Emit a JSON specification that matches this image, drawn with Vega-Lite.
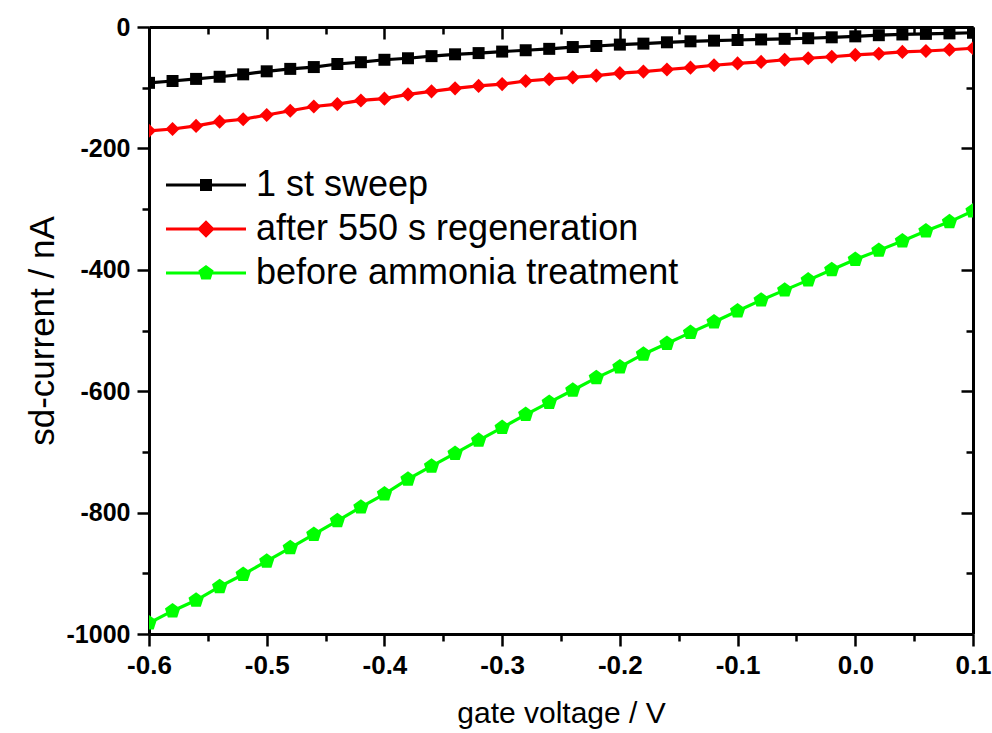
{
  "$schema": "https://vega.github.io/schema/vega-lite/v6.json",
  "width": 824,
  "height": 607,
  "autosize": {"type": "none"},
  "padding": {"left": 149, "top": 27, "right": 19, "bottom": 99},
  "background": "white",
  "config": {
    "view": {"stroke": null},
    "font": "Liberation Sans",
    "axis": {
      "domainColor": "black", "domainWidth": 3, "tickColor": "black", "tickWidth": 2.5,
      "grid": false, "labelFont": "Liberation Sans", "labelFontSize": 26, "labelFontWeight": "bold",
      "labelColor": "black", "titleFont": "Liberation Sans", "titleFontSize": 30, "titleFontWeight": "normal", "titleColor": "black"
    }
  },
  "data": {"values": [
    {"series": "1 st sweep", "V": -0.6, "I": -92}, {"series": "1 st sweep", "V": -0.58, "I": -89}, {"series": "1 st sweep", "V": -0.56, "I": -85.5}, {"series": "1 st sweep", "V": -0.54, "I": -82},
    {"series": "1 st sweep", "V": -0.52, "I": -78}, {"series": "1 st sweep", "V": -0.5, "I": -73}, {"series": "1 st sweep", "V": -0.48, "I": -69}, {"series": "1 st sweep", "V": -0.46, "I": -66},
    {"series": "1 st sweep", "V": -0.44, "I": -61}, {"series": "1 st sweep", "V": -0.42, "I": -58}, {"series": "1 st sweep", "V": -0.4, "I": -54}, {"series": "1 st sweep", "V": -0.38, "I": -51.5},
    {"series": "1 st sweep", "V": -0.36, "I": -48}, {"series": "1 st sweep", "V": -0.34, "I": -45}, {"series": "1 st sweep", "V": -0.32, "I": -43}, {"series": "1 st sweep", "V": -0.3, "I": -40.5},
    {"series": "1 st sweep", "V": -0.28, "I": -38.3}, {"series": "1 st sweep", "V": -0.26, "I": -36}, {"series": "1 st sweep", "V": -0.24, "I": -33}, {"series": "1 st sweep", "V": -0.22, "I": -31.3},
    {"series": "1 st sweep", "V": -0.2, "I": -29}, {"series": "1 st sweep", "V": -0.18, "I": -27.4}, {"series": "1 st sweep", "V": -0.16, "I": -25.2}, {"series": "1 st sweep", "V": -0.14, "I": -23.6},
    {"series": "1 st sweep", "V": -0.12, "I": -22.5}, {"series": "1 st sweep", "V": -0.1, "I": -21.4}, {"series": "1 st sweep", "V": -0.08, "I": -20.5}, {"series": "1 st sweep", "V": -0.06, "I": -19.5},
    {"series": "1 st sweep", "V": -0.04, "I": -18.5}, {"series": "1 st sweep", "V": -0.02, "I": -17}, {"series": "1 st sweep", "V": 0, "I": -15.4}, {"series": "1 st sweep", "V": 0.02, "I": -13.5},
    {"series": "1 st sweep", "V": 0.04, "I": -12.3}, {"series": "1 st sweep", "V": 0.06, "I": -11.3}, {"series": "1 st sweep", "V": 0.08, "I": -10.5}, {"series": "1 st sweep", "V": 0.1, "I": -9.5},

    {"series": "after 550 s regeneration", "V": -0.6, "I": -171}, {"series": "after 550 s regeneration", "V": -0.58, "I": -168}, {"series": "after 550 s regeneration", "V": -0.56, "I": -163}, {"series": "after 550 s regeneration", "V": -0.54, "I": -156},
    {"series": "after 550 s regeneration", "V": -0.52, "I": -152}, {"series": "after 550 s regeneration", "V": -0.5, "I": -145}, {"series": "after 550 s regeneration", "V": -0.48, "I": -138}, {"series": "after 550 s regeneration", "V": -0.46, "I": -131},
    {"series": "after 550 s regeneration", "V": -0.44, "I": -127}, {"series": "after 550 s regeneration", "V": -0.42, "I": -121}, {"series": "after 550 s regeneration", "V": -0.4, "I": -118}, {"series": "after 550 s regeneration", "V": -0.38, "I": -111},
    {"series": "after 550 s regeneration", "V": -0.36, "I": -106}, {"series": "after 550 s regeneration", "V": -0.34, "I": -101}, {"series": "after 550 s regeneration", "V": -0.32, "I": -97}, {"series": "after 550 s regeneration", "V": -0.3, "I": -94},
    {"series": "after 550 s regeneration", "V": -0.28, "I": -89}, {"series": "after 550 s regeneration", "V": -0.26, "I": -86}, {"series": "after 550 s regeneration", "V": -0.24, "I": -83}, {"series": "after 550 s regeneration", "V": -0.22, "I": -80},
    {"series": "after 550 s regeneration", "V": -0.2, "I": -76}, {"series": "after 550 s regeneration", "V": -0.18, "I": -73.5}, {"series": "after 550 s regeneration", "V": -0.16, "I": -70}, {"series": "after 550 s regeneration", "V": -0.14, "I": -67},
    {"series": "after 550 s regeneration", "V": -0.12, "I": -63}, {"series": "after 550 s regeneration", "V": -0.1, "I": -60}, {"series": "after 550 s regeneration", "V": -0.08, "I": -57.5}, {"series": "after 550 s regeneration", "V": -0.06, "I": -54},
    {"series": "after 550 s regeneration", "V": -0.04, "I": -51.5}, {"series": "after 550 s regeneration", "V": -0.02, "I": -49}, {"series": "after 550 s regeneration", "V": 0, "I": -46}, {"series": "after 550 s regeneration", "V": 0.02, "I": -44},
    {"series": "after 550 s regeneration", "V": 0.04, "I": -41}, {"series": "after 550 s regeneration", "V": 0.06, "I": -39.5}, {"series": "after 550 s regeneration", "V": 0.08, "I": -37.5}, {"series": "after 550 s regeneration", "V": 0.1, "I": -35},

    {"series": "before ammonia treatment", "V": -0.6, "I": -982}, {"series": "before ammonia treatment", "V": -0.58, "I": -962}, {"series": "before ammonia treatment", "V": -0.56, "I": -944.5}, {"series": "before ammonia treatment", "V": -0.54, "I": -922},
    {"series": "before ammonia treatment", "V": -0.52, "I": -902}, {"series": "before ammonia treatment", "V": -0.5, "I": -880}, {"series": "before ammonia treatment", "V": -0.48, "I": -858}, {"series": "before ammonia treatment", "V": -0.46, "I": -836},
    {"series": "before ammonia treatment", "V": -0.44, "I": -813.5}, {"series": "before ammonia treatment", "V": -0.42, "I": -791}, {"series": "before ammonia treatment", "V": -0.4, "I": -769.5}, {"series": "before ammonia treatment", "V": -0.38, "I": -745},
    {"series": "before ammonia treatment", "V": -0.36, "I": -723.5}, {"series": "before ammonia treatment", "V": -0.34, "I": -702.5}, {"series": "before ammonia treatment", "V": -0.32, "I": -681}, {"series": "before ammonia treatment", "V": -0.3, "I": -660},
    {"series": "before ammonia treatment", "V": -0.28, "I": -638.5}, {"series": "before ammonia treatment", "V": -0.26, "I": -618.5}, {"series": "before ammonia treatment", "V": -0.24, "I": -598.5}, {"series": "before ammonia treatment", "V": -0.22, "I": -578},
    {"series": "before ammonia treatment", "V": -0.2, "I": -560}, {"series": "before ammonia treatment", "V": -0.18, "I": -539}, {"series": "before ammonia treatment", "V": -0.16, "I": -521.5}, {"series": "before ammonia treatment", "V": -0.14, "I": -503.5},
    {"series": "before ammonia treatment", "V": -0.12, "I": -486}, {"series": "before ammonia treatment", "V": -0.1, "I": -468}, {"series": "before ammonia treatment", "V": -0.08, "I": -450}, {"series": "before ammonia treatment", "V": -0.06, "I": -433.5},
    {"series": "before ammonia treatment", "V": -0.04, "I": -417}, {"series": "before ammonia treatment", "V": -0.02, "I": -400}, {"series": "before ammonia treatment", "V": 0, "I": -383}, {"series": "before ammonia treatment", "V": 0.02, "I": -368},
    {"series": "before ammonia treatment", "V": 0.04, "I": -352.5}, {"series": "before ammonia treatment", "V": 0.06, "I": -336}, {"series": "before ammonia treatment", "V": 0.08, "I": -321}, {"series": "before ammonia treatment", "V": 0.1, "I": -303}
  ]},
  "resolve": {
    "axis": {"x": "independent", "y": "independent"},
    "scale": {"shape": "independent"},
    "legend": {"shape": "independent", "color": "independent"}
  },
  "layer": [
    {
      "mark": {"type": "line", "strokeWidth": 3.2, "clip": true},
      "encoding": {
        "x": {"field": "V", "type": "quantitative", "scale": {"domain": [-0.6, 0.1], "nice": false, "zero": false},
          "axis": {"orient": "bottom", "title": "gate voltage / V",
            "values": [-0.6, -0.55, -0.5, -0.45, -0.4, -0.35, -0.3, -0.25, -0.2, -0.15, -0.1, -0.05, 0, 0.05, 0.1],
            "labelExpr": "abs(datum.value*10 - round(datum.value*10)) < 0.001 ? (datum.value < -0.001 ? '-' : '') + format(abs(datum.value), '.1f') : ''",
            "tickSize": {"condition": {"test": "abs(datum.value*10 - round(datum.value*10)) < 0.001", "value": 12}, "value": 7},
            "labelPadding": 6, "titlePadding": 20, "labelFlush": false, "labelOverlap": false}},
        "y": {"field": "I", "type": "quantitative", "scale": {"domain": [-1000, 0], "nice": false, "zero": false},
          "axis": {"orient": "left", "title": "sd-current / nA",
            "values": [-1000, -900, -800, -700, -600, -500, -400, -300, -200, -100, 0],
            "labelExpr": "datum.value % 200 == 0 ? (datum.value < 0 ? '-' : '') + format(abs(datum.value), 'd') : ''",
            "tickSize": {"condition": {"test": "datum.value % 200 == 0", "value": 12}, "value": 7},
            "labelFontSize": 25, "labelPadding": 7, "titlePadding": 6, "titleFontSize": 35, "labelFlush": false, "labelOverlap": false}},
        "color": {"field": "series", "type": "nominal", "legend": null,
          "scale": {"domain": ["1 st sweep", "after 550 s regeneration", "before ammonia treatment"], "range": ["#000000", "#ff0000", "#00ff00"]}}
      }
    },
    {
      "mark": {"type": "point", "filled": true, "opacity": 1, "clip": true},
      "encoding": {
        "x": {"field": "V", "type": "quantitative", "scale": {"domain": [-0.6, 0.1], "nice": false, "zero": false},
          "axis": {"orient": "top", "title": null, "labels": false,
            "values": [-0.6, -0.55, -0.5, -0.45, -0.4, -0.35, -0.3, -0.25, -0.2, -0.15, -0.1, -0.05, 0, 0.05, 0.1],
            "tickSize": {"condition": {"test": "abs(datum.value*10 - round(datum.value*10)) < 0.001", "value": -12}, "value": -7}}},
        "y": {"field": "I", "type": "quantitative", "scale": {"domain": [-1000, 0], "nice": false, "zero": false},
          "axis": {"orient": "right", "title": null, "labels": false,
            "values": [-1000, -900, -800, -700, -600, -500, -400, -300, -200, -100, 0],
            "tickSize": {"condition": {"test": "datum.value % 200 == 0", "value": -12}, "value": -7}}},
        "color": {"field": "series", "type": "nominal", "legend": null,
          "scale": {"domain": ["1 st sweep", "after 550 s regeneration", "before ammonia treatment"], "range": ["#000000", "#ff0000", "#00ff00"]}},
        "shape": {"field": "series", "type": "nominal", "legend": null,
          "scale": {"domain": ["1 st sweep", "after 550 s regeneration", "before ammonia treatment"],
            "range": ["M-1,-1H1V1H-1Z", "M0,-1L1,0L0,1L-1,0Z", "M0,-1L0.951,-0.309L0.588,0.809L-0.588,0.809L-0.951,-0.309Z"]}},
        "size": {"field": "series", "type": "nominal", "legend": null,
          "scale": {"domain": ["1 st sweep", "after 550 s regeneration", "before ammonia treatment"], "range": [144, 256, 270]}}
      }
    },
    {
      "mark": {"type": "point", "filled": true, "opacity": 0, "size": 6400},
      "encoding": {
        "x": {"field": "V", "type": "quantitative", "axis": null},
        "y": {"field": "I", "type": "quantitative", "axis": null},
        "color": {"field": "series", "type": "nominal",
          "scale": {"domain": ["1 st sweep", "after 550 s regeneration", "before ammonia treatment"], "range": ["#000000", "#ff0000", "#00ff00"]},
          "legend": {"orient": "none", "legendX": 17, "legendY": 136, "title": null, "padding": 0, "rowPadding": 0,
            "clipHeight": 44, "symbolSize": 6400, "symbolOpacity": 1, "symbolStrokeWidth": 0, "labelFont": "Liberation Sans", "labelFontSize": 36,
            "labelColor": "black", "labelOffset": 10, "labelLimit": 0}},
        "shape": {"field": "series", "type": "nominal",
          "scale": {"domain": ["1 st sweep", "after 550 s regeneration", "before ammonia treatment"],
            "range": ["M-1,-0.04H1V0.04H-1Z M-0.15,-0.15H0.15V0.15H-0.15Z", "M-1,-0.04H1V0.04H-1Z M0,-0.22L0.22,0L0,0.22L-0.22,0Z", "M-1,-0.04H1V0.04H-1Z M0,-0.2L0.19,-0.062L0.118,0.162L-0.118,0.162L-0.19,-0.062Z"]},
          "legend": {"orient": "none", "legendX": 17, "legendY": 136, "title": null, "padding": 0, "rowPadding": 0,
            "clipHeight": 44, "symbolSize": 6400, "symbolOpacity": 1, "symbolStrokeWidth": 0, "labelFont": "Liberation Sans", "labelFontSize": 36,
            "labelColor": "black", "labelOffset": 10, "labelLimit": 0}}
      }
    }
  ]
}
